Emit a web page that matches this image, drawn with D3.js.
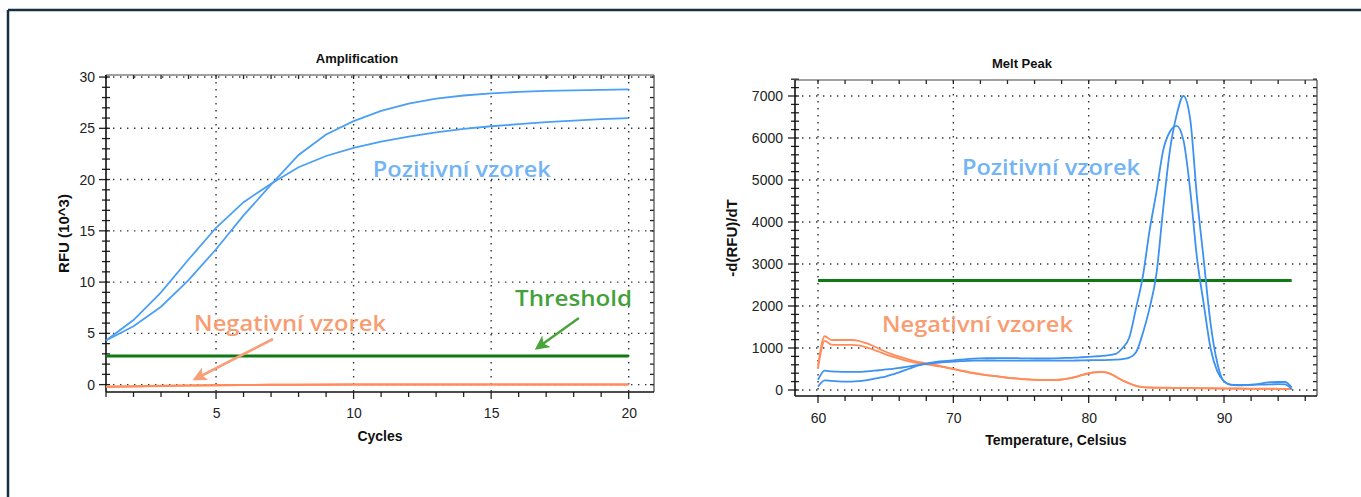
<!DOCTYPE html>
<html>
<head>
<meta charset="utf-8">
<script src="https://cdn.jsdelivr.net/npm/d3@7"></script>
<style>
  html, body { margin: 0; padding: 0; background: #fff; }
  svg { display: block; }
</style>
</head>
<body>
<svg id="chart" width="1361" height="497"></svg>
<script>
// ---------------- DATA ----------------
const cycles = [1,2,3,4,5,6,7,8,9,10,11,12,13,14,15,16,17,18,19,20];
const ampPos1 = [4.3,6.3,9.0,12.2,15.3,17.8,19.6,21.2,22.3,23.1,23.7,24.2,24.6,24.95,25.2,25.4,25.6,25.75,25.9,26.0];
const ampPos2 = [4.3,5.7,7.6,10.2,13.2,16.5,19.5,22.4,24.4,25.7,26.7,27.4,27.9,28.2,28.4,28.55,28.65,28.7,28.75,28.8];
const ampNeg1 = [-0.2,-0.16,-0.12,-0.08,-0.05,-0.03,-0.02,-0.01,0,0,0,0,0,0,0,0,0,0,0,0];
const ampNeg2 = [-0.22,-0.18,-0.13,-0.09,-0.06,-0.04,-0.02,-0.01,-0.01,0,0,0,0,0,0,0,0,0,0,0];
const ampThreshold = 2.8;
const ampXTicks = [5,10,15,20];
const ampYTicks = [0,5,10,15,20,25,30];

const meltTemps = [60,60.5,61,61.5,62,62.5,63,63.5,64,64.5,65,65.5,66,66.5,67,67.5,68,68.5,69,69.5,
  70,70.5,71,71.5,72,72.5,73,73.5,74,74.5,75,75.5,76,76.5,77,77.5,78,78.5,79,79.5,
  80,80.5,81,81.5,82,82.5,83,83.5,84,84.5,85,85.5,86,86.5,87,87.5,88,88.5,89,89.5,
  90,90.5,91,91.5,92,92.5,93,93.5,94,94.5,95];
const meltPos1 = [80,230,215,205,200,200,210,230,260,290,320,370,420,480,540,590,630,660,680,695,
  705,720,735,745,752,756,760,760,760,758,755,752,750,750,750,755,760,765,770,780,
  790,800,810,830,860,1000,1250,1950,2700,3800,4700,5700,6150,6290,5950,4760,3150,2050,1000,450,
  210,120,110,115,120,140,170,185,190,190,60];
const meltPos2 = [240,460,445,435,430,430,430,440,455,470,490,505,525,550,575,600,620,640,655,665,
  675,685,692,698,700,702,702,700,700,700,700,700,700,700,700,700,700,700,702,705,
  708,710,712,716,722,735,770,900,1350,1950,2750,4300,5700,6550,7000,6450,4600,3100,1600,650,
  200,130,120,120,125,128,130,135,140,135,20];
const meltNeg1 = [580,1280,1190,1190,1190,1190,1170,1120,1060,985,910,850,795,745,700,665,635,605,575,540,
  505,470,435,405,380,355,335,315,295,280,265,255,245,240,238,240,250,275,310,360,
  400,425,430,400,320,230,160,100,70,60,57,55,53,51,49,47,45,43,41,39,
  37,36,35,34,33,32,31,30,29,28,25];
const meltNeg2 = [520,1170,1080,1075,1075,1075,1060,1020,970,910,850,795,745,700,665,635,610,585,560,528,
  495,462,428,398,373,350,330,310,290,275,260,250,240,236,235,238,248,272,305,352,
  392,418,424,395,315,226,155,96,66,56,53,51,49,47,45,43,41,39,37,35,
  33,32,31,30,29,28,27,26,25,24,21];
const meltThreshold = 2610;
const meltThresholdRange = [60, 95];
const meltXTicks = [60,70,80,90];
const meltYTicks = [0,1000,2000,3000,4000,5000,6000,7000];

const labelPositive = "Pozitivní vzorek";
const labelNegative = "Negativní vzorek";
const labelThreshold = "Threshold";

// ---------------- STYLE ----------------
const BLUE = "#4b9ff4";
const BLUE_MELT = "#3d91f0";
const BLUE_TEXT = "#72b4f5";
const ORANGE = "#ff8c5a";
const ORANGE_TEXT = "#f89d72";
const GREEN = "#0f7a14";
const GREEN_TEXT = "#44a13a";
const GREEN_ARROW = "#4aa63a";
const ORANGE_ARROW = "#f79f78";
const FONT = "Liberation Sans, Arial, sans-serif";

const svg = d3.select("#chart");
svg.append("rect").attr("width", 1361).attr("height", 497).attr("fill", "#fff");

// outer border (top and left visible)
svg.append("line").attr("x1", 8).attr("y1", 10).attr("x2", 1361).attr("y2", 10)
  .attr("stroke", "#17303f").attr("stroke-width", 2.5);
svg.append("line").attr("x1", 8).attr("y1", 10).attr("x2", 8).attr("y2", 497)
  .attr("stroke", "#17303f").attr("stroke-width", 2.5);

const defs = svg.append("defs");
function marker(id, color) {
  defs.append("marker").attr("id", id).attr("viewBox", "0 0 10 10")
    .attr("refX", 8).attr("refY", 5).attr("markerWidth", 5.5).attr("markerHeight", 5.5)
    .attr("orient", "auto-start-reverse")
    .append("path").attr("d", "M0,0 L10,5 L0,10 L2.5,5 Z").attr("fill", color);
}
marker("arrGreen", GREEN_ARROW);
marker("arrOrange", ORANGE_ARROW);

function panel(cfg) {
  const { x, y, xTicks, yTicks, xMinor, yMinor, title, titleX, xLabel, yLabel, yLabelX, xLabelY, titleY, tickPadX, tickPadY } = cfg;
  const [x0, x1] = x.range();
  const [y1, y0] = y.range(); // y1 bottom, y0 top
  const g = svg.append("g");

  // grid
  const dot = { stroke: "#333", "stroke-width": 1.4, "stroke-dasharray": "1.4,5.6" };
  xTicks.forEach(v => {
    const l = g.append("line").attr("x1", x(v)).attr("x2", x(v)).attr("y1", y0).attr("y2", y1);
    Object.entries(dot).forEach(([k, val]) => l.attr(k, val));
  });
  yTicks.forEach(v => {
    const l = g.append("line").attr("x1", x0).attr("x2", x1).attr("y1", y(v)).attr("y2", y(v));
    Object.entries(dot).forEach(([k, val]) => l.attr(k, val));
  });

  // minor ticks
  const tk = g.append("g").attr("stroke", "#222").attr("stroke-width", 1.3);
  xMinor.forEach(v => {
    const major = xTicks.includes(v);
    tk.append("line").attr("x1", x(v)).attr("x2", x(v)).attr("y1", y1).attr("y2", y1 + (major ? 7 : 5));
    tk.append("line").attr("x1", x(v)).attr("x2", x(v)).attr("y1", y0).attr("y2", y0 + 4);
  });
  yMinor.forEach(v => {
    const major = yTicks.includes(v);
    tk.append("line").attr("x1", x0 - (major ? 7 : 4)).attr("x2", x0 + 4).attr("y1", y(v)).attr("y2", y(v));
    tk.append("line").attr("x1", x1 - 4).attr("x2", x1).attr("y1", y(v)).attr("y2", y(v));
  });

  // axes labels via d3 axes
  const ax = g.append("g").attr("transform", `translate(0,${y1})`)
    .call(d3.axisBottom(x).tickValues(xTicks).tickFormat(d3.format("d")).tickSize(0).tickPadding(tickPadX));
  const ay = g.append("g").attr("transform", `translate(${x0},0)`)
    .call(d3.axisLeft(y).tickValues(yTicks).tickFormat(d3.format("d")).tickSize(0).tickPadding(tickPadY));
  [ax, ay].forEach(a => {
    a.select(".domain").remove();
    a.selectAll("text").attr("font-family", FONT).attr("font-size", 14).attr("fill", "#222");
  });

  // frame
  g.append("line").attr("x1", x0).attr("x2", x1).attr("y1", y0).attr("y2", y0).attr("stroke", "#444").attr("stroke-width", 1.2);
  g.append("line").attr("x1", x1).attr("x2", x1).attr("y1", y0).attr("y2", y1).attr("stroke", "#444").attr("stroke-width", 1.2);
  g.append("line").attr("x1", x0).attr("x2", x1).attr("y1", y1).attr("y2", y1).attr("stroke", "#111").attr("stroke-width", 1.6);
  g.append("line").attr("x1", x0).attr("x2", x0).attr("y1", y0).attr("y2", y1).attr("stroke", "#111").attr("stroke-width", 1.6);

  // titles
  svg.append("text").attr("x", titleX).attr("y", titleY).attr("text-anchor", "middle")
    .attr("font-family", FONT).attr("font-weight", "bold")
    .attr("font-size", 13).attr("fill", "#111").text(title);
  svg.append("text").attr("x", (x0 + x1) / 2).attr("y", xLabelY).attr("text-anchor", "middle")
    .attr("font-family", FONT).attr("font-weight", "bold")
    .attr("font-size", 14).attr("fill", "#111").text(xLabel);
  svg.append("text").attr("transform", `translate(${yLabelX},${(y0 + y1) / 2}) rotate(-90)`)
    .attr("text-anchor", "middle")
    .attr("font-family", FONT).attr("font-weight", "bold")
    .attr("font-size", 15).attr("fill", "#111").text(yLabel);
  return g;
}

function annot(g, text, px, py, color, size, width) {
  g.append("text").attr("x", px).attr("y", py)
    .attr("font-family", "Open Sans, Lato, sans-serif").attr("font-weight", 600)
    .attr("font-size", size).attr("fill", color)
    .attr("textLength", width).attr("lengthAdjust", "spacingAndGlyphs")
    .text(text);
}
function arrow(g, xa, ya, xb, yb, color, id) {
  g.append("line").attr("x1", xa).attr("y1", ya).attr("x2", xb).attr("y2", yb)
    .attr("stroke", color).attr("stroke-width", 2.6).attr("marker-end", `url(#${id})`);
}

// ---------------- AMPLIFICATION ----------------
const xA = d3.scaleLinear().domain([1, 20.92]).range([106, 654]);
const yA = d3.scaleLinear().domain([-0.72, 30.2]).range([392, 75]);
const gA = panel({
  x: xA, y: yA, xTicks: ampXTicks, yTicks: ampYTicks,
  xMinor: d3.range(1, 21, 1), yMinor: d3.range(0, 31, 1),
  title: "Amplification", titleX: 357, xLabel: "Cycles", yLabel: "RFU (10^3)",
  yLabelX: 69, xLabelY: 441, titleY: 63, tickPadX: 16, tickPadY: 11
});
const lineA = (vals) => d3.line().x((d, i) => xA(cycles[i])).y(d => yA(d))(vals);
[ampNeg1, ampNeg2].forEach(s => gA.append("path").attr("d", lineA(s)).attr("fill", "none")
  .attr("stroke", ORANGE).attr("stroke-width", 2));
gA.append("line").attr("x1", xA(cycles[0])).attr("x2", xA(cycles[cycles.length - 1]))
  .attr("y1", yA(ampThreshold)).attr("y2", yA(ampThreshold))
  .attr("stroke", GREEN).attr("stroke-width", 3);
[ampPos1, ampPos2].forEach(s => gA.append("path").attr("d", lineA(s)).attr("fill", "none")
  .attr("stroke", BLUE).attr("stroke-width", 1.8));

annot(gA, labelPositive, xA(10.7), yA(20.25), BLUE_TEXT, 22, 178);
annot(gA, labelThreshold, xA(15.87), yA(7.67), GREEN_TEXT, 22, 117);
annot(gA, labelNegative, xA(4.2), yA(5.23), ORANGE_TEXT, 22, 192);
arrow(gA, xA(7.07), yA(4.45), xA(4.24), yA(0.55), ORANGE_ARROW, "arrOrange");
arrow(gA, xA(18.19), yA(6.5), xA(16.67), yA(3.57), GREEN_ARROW, "arrGreen");

// ---------------- MELT PEAK ----------------
const xM = d3.scaleLinear().domain([58.3, 96.87]).range([795, 1317]);
const yM = d3.scaleLinear().domain([-143, 7381]).range([396, 80]);
const gM = panel({
  x: xM, y: yM, xTicks: meltXTicks, yTicks: meltYTicks,
  xMinor: d3.range(60, 97, 2), yMinor: d3.range(0, 7401, 200),
  title: "Melt Peak", titleX: 1022, xLabel: "Temperature, Celsius", yLabel: "-d(RFU)/dT",
  yLabelX: 737, xLabelY: 445, titleY: 68, tickPadX: 17, tickPadY: 12
});
const lineM = (vals) => d3.line().curve(d3.curveMonotoneX)
  .x((d, i) => xM(meltTemps[i])).y(d => yM(d))(vals);
gM.append("line").attr("x1", xM(meltThresholdRange[0])).attr("x2", xM(meltThresholdRange[1]))
  .attr("y1", yM(meltThreshold)).attr("y2", yM(meltThreshold))
  .attr("stroke", GREEN).attr("stroke-width", 3);
[meltNeg1, meltNeg2].forEach(s => gM.append("path").attr("d", lineM(s)).attr("fill", "none")
  .attr("stroke", ORANGE).attr("stroke-width", 1.8));
[meltPos1, meltPos2].forEach(s => gM.append("path").attr("d", lineM(s)).attr("fill", "none")
  .attr("stroke", BLUE_MELT).attr("stroke-width", 1.8));

annot(gM, labelPositive, xM(70.64), yM(5119), BLUE_TEXT, 22, 178);
annot(gM, labelNegative, xM(64.73), yM(1381), ORANGE_TEXT, 22, 191);
</script>
</body>
</html>
